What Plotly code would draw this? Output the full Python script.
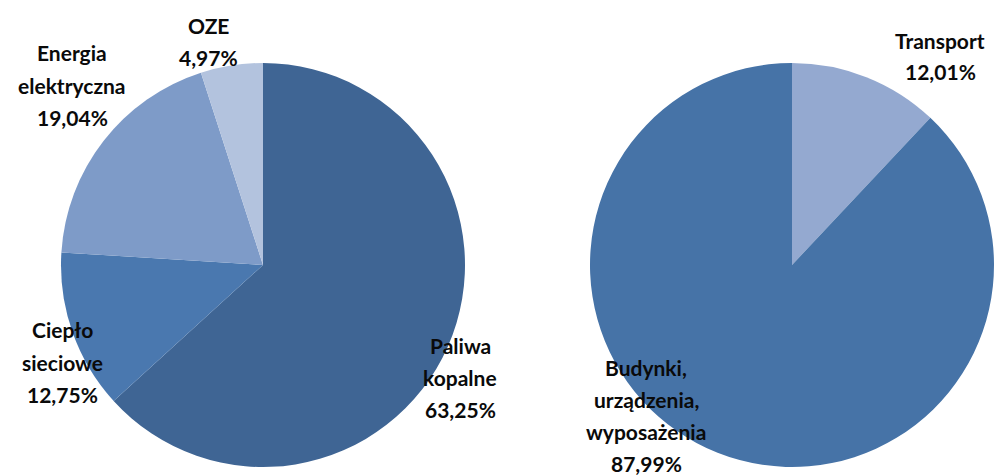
import plotly.graph_objects as go

# Left pie data
left_categories = ["Paliwa kopalne", "Ciepło sieciowe", "Energia elektryczna", "OZE"]
left_values = [63.25, 12.75, 19.04, 4.97]
left_colors = ["#3F6594", "#4A78AF", "#7E9BC8", "#B3C3DE"]

# Right pie data
right_categories = ["Budynki, urządzenia, wyposażenia", "Transport"]
right_values = [87.99, 12.01]
right_colors = ["#4673A7", "#94A9D0"]
right_order = ["Transport", "Budynki, urządzenia, wyposażenia"]

W, H = 995, 475

# label anchor positions (pixel, top-left origin): center x, first line center y
left_label_pos = {
    "Paliwa kopalne": (460, 345),
    "Ciepło sieciowe": (63, 330),
    "Energia elektryczna": (72, 53),
    "OZE": (208, 25),
}
right_label_pos = {
    "Transport": (940, 40),
    "Budynki, urządzenia, wyposażenia": (646, 367),
}
LINE = 32
FONT = dict(family="Lato, 'Open Sans', sans-serif", size=21, color="#0A0A0A")


def fmt(v):
    return f"{v:.2f}".replace(".", ",") + "%"


fig = go.Figure()

r_vals = [right_values[right_categories.index(c)] for c in right_order]
r_cols = [right_colors[right_categories.index(c)] for c in right_order]

fig.add_trace(go.Pie(
    labels=left_categories, values=left_values, sort=False, direction="clockwise",
    marker=dict(colors=left_colors, line=dict(width=0)), textinfo="none",
    hoverinfo="label+percent", showlegend=False,
    domain=dict(x=[61 / W, 465 / W], y=[(H - 467) / H, (H - 63) / H]),
))
fig.add_trace(go.Pie(
    labels=right_order, values=r_vals, sort=False, direction="clockwise",
    marker=dict(colors=r_cols, line=dict(width=0)), textinfo="none",
    hoverinfo="label+percent", showlegend=False,
    domain=dict(x=[590 / W, 994 / W], y=[(H - 467) / H, (H - 63) / H]),
))

annotations = []


def add_labels(cats, vals, pos):
    for c, v in zip(cats, vals):
        lines = c.split(" ") + [fmt(v)]
        cx, cy = pos[c]
        for i, ln in enumerate(lines):
            annotations.append(dict(
                x=cx / W, y=(H - (cy + i * LINE)) / H, xref="paper", yref="paper",
                text=f"<b>{ln}</b>", showarrow=False, font=FONT,
                xanchor="center", yanchor="middle",
            ))


add_labels(left_categories, left_values, left_label_pos)
add_labels(right_categories, right_values, right_label_pos)

fig.update_layout(
    width=W, height=H, margin=dict(l=0, r=0, t=0, b=0),
    paper_bgcolor="white", plot_bgcolor="white",
    annotations=annotations,
)

fig.write_html("out.html", config={"displayModeBar": False})
with open("out.html", encoding="utf-8") as f:
    html = f.read()
html = html.replace("<head>", "<head><style>html,body{margin:0;padding:0;overflow:hidden;}</style>", 1)
with open("out.html", "w", encoding="utf-8") as f:
    f.write(html)
